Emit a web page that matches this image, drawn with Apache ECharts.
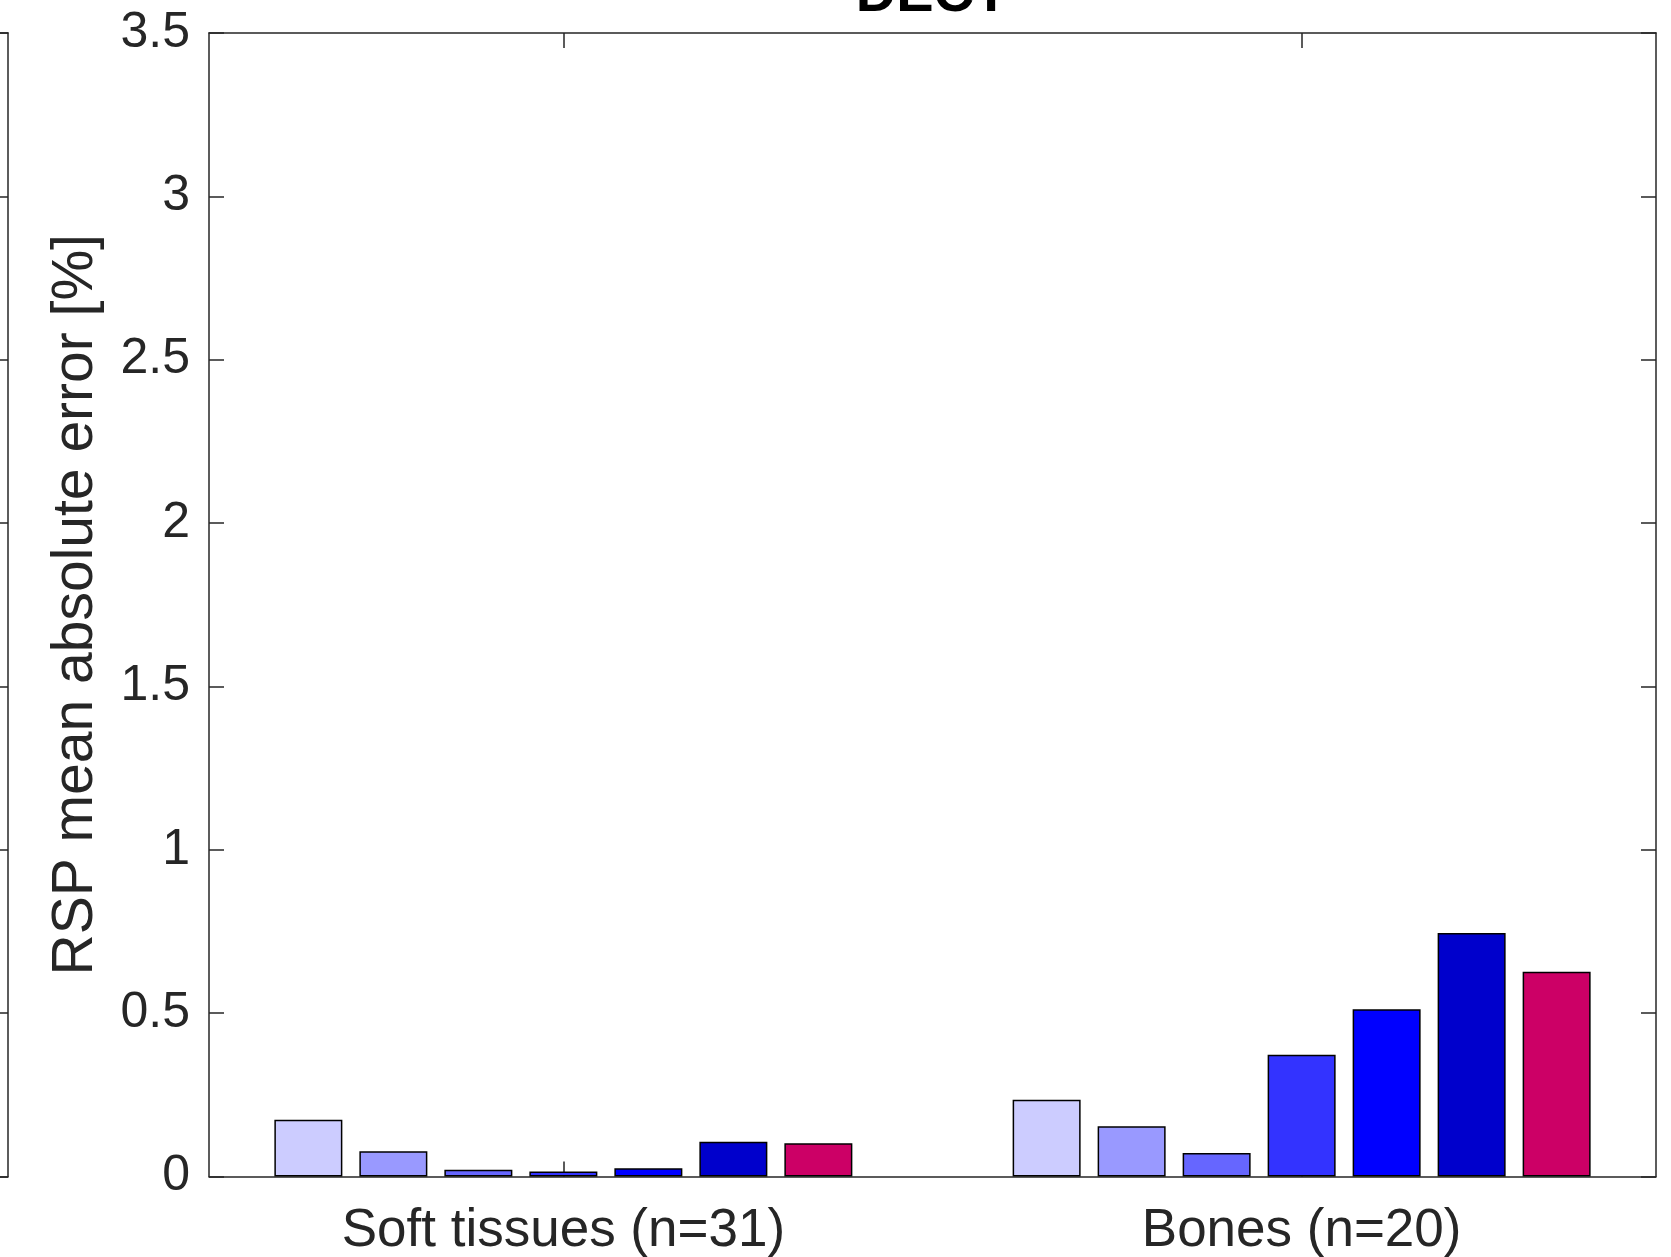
<!DOCTYPE html>
<html>
<head>
<meta charset="utf-8">
<title>DECT</title>
<script src="https://cdn.jsdelivr.net/npm/echarts@6/dist/echarts.min.js"></script>
<style>
  html, body { margin: 0; padding: 0; background: #ffffff; }
  #chart { width: 1671px; height: 1257px; }
</style>
</head>
<body>
<div id="chart"></div>
<script>
// Tissue groups (bar positions on the x axis) and their labels
const groupPositions = [1, 2];
const groupLabels = ['Soft tissues (n=31)', 'Bones (n=20)'];

// RSP mean absolute error [%] per method, one value per tissue group
const method1 = [0.174, 0.235];
const method2 = [0.077, 0.154];
const method3 = [0.021, 0.072];
const method4 = [0.015, 0.373];
const method5 = [0.025, 0.512];
const method6 = [0.106, 0.745];
const method7 = [0.102, 0.627];

const methodValues = [method1, method2, method3, method4, method5, method6, method7];
const methodColors = ['#CCCCFF', '#9999FF', '#6666FF', '#3333FF', '#0000FF', '#0000CC', '#CC0066'];

// y axis ticks
const yTicks = [0, 0.5, 1, 1.5, 2, 2.5, 3, 3.5];

const FONT = "'Liberation Sans', Arial, Helvetica, sans-serif";
const AXIS_COLOR = '#262626';

const chart = echarts.init(document.getElementById('chart'), null, { renderer: 'canvas' });

const series = methodValues.map((vals, i) => ({
  type: 'bar',
  xAxisIndex: 0,
  yAxisIndex: 0,
  barWidth: 68,
  barGap: '25%',
  data: groupPositions.map((x, j) => [x, vals[j]]),
  itemStyle: { color: methodColors[i], borderColor: '#000000', borderWidth: 1.5 },
  emphasis: { disabled: true },
  animation: false
}));

const frameLine = { show: true, onZero: false, lineStyle: { color: AXIS_COLOR, width: 1.5 } };
const frameTick = { show: true, inside: true, length: 15, lineStyle: { color: AXIS_COLOR, width: 1.5 } };

const option = {
  animation: false,
  backgroundColor: '#ffffff',
  graphic: [{
    type: 'text',
    x: 932,
    y: 24,
    style: {
      text: 'DECT',
      font: 'bold 56px ' + FONT,
      fill: '#000000',
      textAlign: 'center',
      textVerticalAlign: 'bottom'
    }
  }],
  grid: [
    { left: 209, right: 15, top: 33, bottom: 80.5, outerBoundsMode: 'none', containLabel: false },
    // edge of the neighbouring panel on the far left
    { left: -292, width: 300, top: 33, bottom: 80.5, outerBoundsMode: 'none', containLabel: false }
  ],
  xAxis: [
    {
      type: 'value', gridIndex: 0, min: 0.52, max: 2.48, position: 'bottom',
      axisLine: frameLine,
      axisTick: Object.assign({ customValues: groupPositions }, frameTick),
      axisLabel: {
        show: true, customValues: groupPositions, margin: 28,
        fontSize: 53, fontFamily: FONT, color: AXIS_COLOR,
        formatter: v => groupLabels[groupPositions.indexOf(v)] || ''
      },
      splitLine: { show: false }
    },
    {
      type: 'value', gridIndex: 0, min: 0.52, max: 2.48, position: 'top',
      axisLine: frameLine,
      axisTick: Object.assign({ customValues: groupPositions }, frameTick),
      axisLabel: { show: false },
      splitLine: { show: false }
    },
    {
      type: 'value', gridIndex: 1, min: 0, max: 1, position: 'bottom',
      axisLine: frameLine, axisTick: { show: false }, axisLabel: { show: false }, splitLine: { show: false }
    },
    {
      type: 'value', gridIndex: 1, min: 0, max: 1, position: 'top',
      axisLine: frameLine, axisTick: { show: false }, axisLabel: { show: false }, splitLine: { show: false }
    }
  ],
  yAxis: [
    {
      type: 'value', gridIndex: 0, min: 0, max: 3.5, interval: 0.5, position: 'left',
      name: 'RSP mean absolute error [%]', nameLocation: 'middle', nameGap: 104, nameRotate: 90,
      nameTextStyle: { fontSize: 57, fontFamily: FONT, color: AXIS_COLOR },
      axisLine: frameLine,
      axisTick: frameTick,
      axisLabel: {
        show: true, margin: 19, fontSize: 50, fontFamily: FONT, color: AXIS_COLOR,
        customValues: yTicks,
        formatter: v => String(v)
      },
      splitLine: { show: false }
    },
    {
      type: 'value', gridIndex: 0, min: 0, max: 3.5, interval: 0.5, position: 'right',
      axisLine: frameLine,
      axisTick: frameTick,
      axisLabel: { show: false },
      splitLine: { show: false }
    },
    {
      type: 'value', gridIndex: 1, min: 0, max: 3.5, interval: 0.5, position: 'right',
      axisLine: frameLine,
      axisTick: frameTick,
      axisLabel: { show: false },
      splitLine: { show: false }
    }
  ],
  series: series
};

chart.setOption(option);
</script>
</body>
</html>
